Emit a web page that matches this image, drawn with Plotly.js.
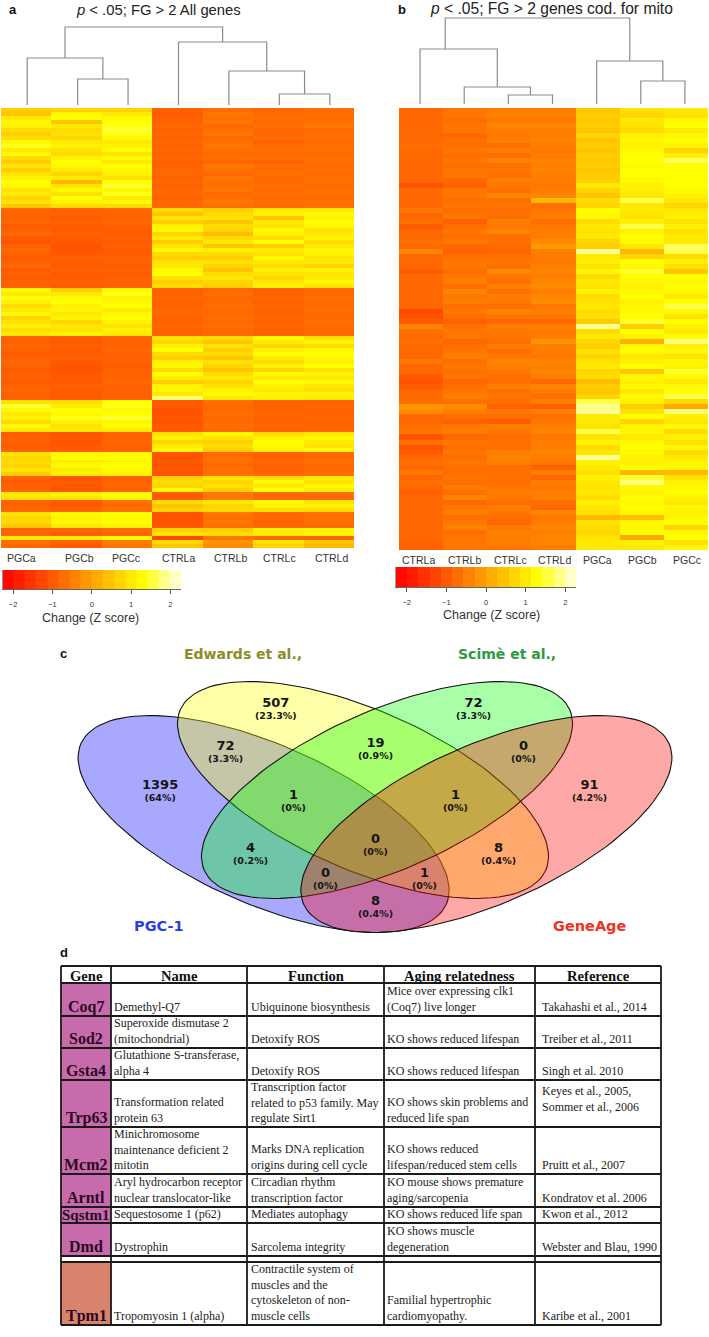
<!DOCTYPE html>
<html><head><meta charset="utf-8">
<script src="https://cdn.plot.ly/plotly-3.0.1.min.js"></script>
<style>html,body{margin:0;padding:0;background:#fff}#chart{width:709px;height:1337px}</style>
</head><body><div id="chart"></div>
<script>
// ---------- Panel a : z scores, one array per sample ----------
const samplesA = ['PGCa','PGCb','PGCc','CTRLa','CTRLb','CTRLc','CTRLd'];
const PGCa_a = [0.6,0.5,1.0,1.2,1.1,0.8,0.6,0.8,1.2,1.4,1.0,1.2,0.8,0.6,0.9,0.6,0.9,1.1,1.3,1.2,0.9,1.0,0.7,0.9,0.5,
 -0.8,-0.9,-0.9,-0.8,-1.0,-0.9,-0.8,-1.0,-1.1,-0.9,-0.8,-0.9,-1.0,-0.9,-0.8,-1.0,-0.9,-1.0,-0.9,-0.9,
 1.2,1.0,1.3,1.1,0.8,1.0,1.2,0.7,0.9,1.1,0.8,1.0,
 -0.9,-0.9,-0.8,-0.9,-1.0,-0.9,-0.8,-0.9,-1.0,-0.9,-0.9,-1.0,-0.9,-0.8,-0.9,-0.9,
 0.9,1.5,1.2,1.0,1.1,0.8,1.2,1.0, -1.0,-0.9,-0.9,-1.0,-0.9, 0.9,0.7,0.8,0.7,0.9,0.6,
 -0.9,-1.0,-0.9,-0.9, 1.0,0.9, -0.9,-0.9,-0.8, 0.9,0.7,0.8,0.5, -0.9,-0.8, 1.0, -0.7,-0.8];
const PGCb_a = [0.7,1.2,1.3,0.5,1.0,0.8,0.9,0.7,1.0,1.1,0.9,0.8,1.1,1.3,1.2,1.0,0.7,1.0,0.3,0.9,1.2,0.9,1.3,1.1,0.8,
 -0.9,-0.9,-1.0,-0.9,-1.0,-1.0,-0.9,-1.0,-1.0,-1.1,-1.1,-1.0,-0.9,-1.0,-1.0,-0.9,-1.0,-1.0,-0.9,-1.0,
 0.6,1.0,1.2,1.3,1.1,1.2,1.0,1.1,0.7,1.0,0.9,1.1,
 -1.0,-1.0,-0.9,-1.0,-1.0,-0.9,-1.0,-1.1,-1.1,-1.0,-1.0,-1.0,-0.9,-1.0,-1.0,-1.0,
 0.8,1.0,1.3,1.2,1.4,1.1,0.9,1.0, -1.1,-1.0,-1.1,-1.0,-1.0, 1.2,1.3,1.1,1.2,1.0,1.1,
 -1.1,-1.0,-1.0,-1.1, 1.1,0.9, -1.0,-1.0,-0.9, 1.2,1.1,1.2,1.0, -0.9,-0.9, 1.0, -0.9,-1.0];
const PGCc_a = [0.7,1.0,1.2,1.3,1.4,1.5,1.4,1.2,1.0,1.1,1.3,0.9,1.2,1.0,1.3,1.2,1.1,0.9,1.3,1.5,1.2,1.4,1.0,1.2,0.8,
 -0.8,-0.9,-0.9,-0.8,-0.9,-1.0,-1.0,-0.9,-1.0,-0.9,-1.0,-1.0,-0.9,-0.9,-1.0,-0.9,-1.0,-0.9,-0.9,-0.9,
 1.2,1.4,1.1,1.2,1.3,1.0,1.2,1.3,1.1,0.9,1.1,1.0,
 -0.9,-0.9,-0.9,-0.8,-0.9,-0.9,-0.9,-1.0,-0.9,-0.9,-0.9,-0.8,-0.9,-0.9,-0.9,-0.9,
 1.3,1.4,1.2,1.3,1.5,1.2,1.3,1.0, -0.9,-0.9,-0.8,-0.9,-0.9, 1.2,1.3,1.2,1.3,1.2,1.1,
 -0.9,-0.9,-0.8,-0.9, 1.3,1.2, -0.7,-0.8,-0.7, 1.3,1.2,1.3,1.1, -0.8,-0.8, 1.2, -0.5,-0.6];
const CTRLa_a = [-0.9,-1.0,-0.9,-0.9,-0.8,-0.9,-0.8,-0.9,-0.8,-0.9,-0.8,-0.9,-0.8,-0.9,-0.9,-0.8,-0.8,-0.9,-0.8,-0.9,-0.8,-0.8,-0.9,-0.8,-0.8,
 0.8,0.5,0.9,0.6,1.1,1.2,0.7,1.0,0.6,0.9,1.2,0.8,0.6,0.9,1.0,1.2,1.3,0.9,0.6,0.8,
 -0.9,-0.9,-0.8,-0.9,-0.9,-0.8,-0.8,-0.9,-0.9,-0.8,-0.9,-0.9,
 0.9,0.7,1.1,1.3,0.8,0.6,1.1,1.2,0.8,1.3,1.0,0.6,1.1,1.2,1.0,1.8,
 -1.0,-1.0,-1.1,-1.1,-1.0,-1.1,-1.0,-1.0, 0.9,1.1,0.7,1.0,1.2, -1.1,-1.1,-1.0,-1.1,-1.0,-1.1,
 0.6,0.8,0.7,1.2, -1.0,-1.0, 0.8,0.5,0.7, -1.1,-1.1,-1.1,-1.0, 0.7,0.9, -1.2, 0.8,0.5];
const CTRLb_a = [-0.7,-0.6,-0.7,-0.6,-0.8,-0.7,-0.6,-0.8,-0.7,-0.6,-0.7,-0.8,-0.7,-0.8,-0.6,-0.7,-0.8,-0.6,-0.7,-0.7,-0.6,-0.8,-0.7,-0.6,-0.7,
 0.6,0.8,0.9,0.5,0.8,0.7,0.4,0.8,1.0,0.5,1.1,0.8,0.6,0.9,0.7,0.5,0.8,1.0,0.7,0.6,
 -0.8,-0.7,-0.8,-0.8,-0.7,-0.8,-0.8,-0.7,-0.8,-0.7,-0.8,-0.8,
 0.8,0.5,0.9,0.6,0.8,0.5,0.9,0.7,0.5,0.8,1.0,0.7,0.9,1.1,1.2,1.0,
 -0.7,-0.8,-0.8,-0.7,-0.8,-0.8,-0.7,-0.8, 1.2,0.9,0.6,0.8,0.6, -0.8,-0.7,-0.7,-0.8,-0.7,-0.7,
 0.9,0.7,0.9,0.6, -0.6,-0.6, 1.0,0.7,0.8, -0.6,-0.7,-0.6,-0.7, 0.6,0.8, -0.6, -0.2,-0.3];
const CTRLc_a = [-0.8,-0.8,-0.7,-0.8,-0.7,-0.8,-0.8,-0.7,-0.9,-0.8,-0.7,-0.8,-0.7,-0.9,-0.7,-0.8,-0.7,-0.8,-0.8,-0.7,-0.8,-0.7,-0.8,-0.7,-0.8,
 1.0,1.1,0.5,1.0,0.9,1.2,1.1,0.8,1.3,0.6,1.0,0.9,1.2,1.0,0.8,1.1,0.9,0.7,1.0,1.1,
 -0.9,-0.9,-0.8,-0.9,-0.8,-0.9,-0.9,-0.8,-0.9,-0.8,-0.9,-0.9,
 1.2,1.0,0.7,1.1,1.3,1.0,0.8,1.1,0.7,1.2,1.0,1.3,1.1,1.0,1.2,1.1,
 -0.9,-0.9,-0.9,-0.8,-0.9,-0.9,-0.8,-0.9, 0.8,1.1,1.3,1.2,1.1, -0.9,-0.9,-0.8,-0.9,-0.9,-0.8,
 0.8,1.2,1.0,1.3, -0.8,-0.8, 1.2,1.1,0.9, -0.8,-0.8,-0.9,-0.8, 1.1,1.0, -0.8, 0.9,0.7];
const CTRLd_a = [-0.7,-0.7,-0.8,-0.7,-0.6,-0.8,-0.7,-0.7,-0.8,-0.7,-0.7,-0.8,-0.7,-0.7,-0.8,-0.7,-0.8,-0.7,-0.7,-0.8,-0.7,-0.7,-0.8,-0.7,-0.7,
 1.0,1.2,1.1,1.3,1.2,0.9,1.0,1.1,0.8,1.0,1.2,1.1,0.9,1.0,0.7,1.1,0.9,1.0,1.2,0.9,
 -0.8,-0.8,-0.7,-0.8,-0.8,-0.7,-0.8,-0.8,-0.7,-0.8,-0.8,-0.8,
 0.9,1.1,0.8,1.2,1.3,1.2,1.1,1.3,0.9,1.1,1.0,1.2,1.0,0.8,1.1,1.0,
 -0.9,-0.8,-0.9,-0.9,-0.8,-0.9,-0.9,-0.8, 1.0,1.2,1.0,0.9,1.2, -0.8,-0.8,-0.7,-0.8,-0.8,-0.7,
 1.0,0.9,1.2,1.0, -0.7,-0.8, 0.9,1.1,0.8, -0.7,-0.7,-0.7,-0.8, 1.2,1.1, -0.8, 0.5,0.3];

// ---------- Panel b : z scores, one array per sample ----------
const samplesB = ['CTRLa','CTRLb','CTRLc','CTRLd','PGCa','PGCb','PGCc'];
const CTRLa_b = [-.8,-.8,-.8,-.8,-.8,-.8,-.8,-.7,-.8,-.8,
 -.8,-.8,-.8,-.8,-.8,-1.1,-.8,-.8,-.8,-.8,
 -.6,-.8,-.7,-1.0,-.8,-.8,-.7,-.8,-.4,-.8,
 -.8,-.8,-1.0,-.8,-.8,-.8,-.8,-.8,-.8,-.8,
 -1.2,-1.1,-1.0,-.4,-.7,-.8,-.7,-.8,-.8,-.8,
 -.6,-.8,-.8,-1.0,-1.1,-1.0,-.8,-.8,-.7,-.2,
 -.3,-.8,-.8,-.7,-.6,-1.1,-.7,-1.1,-1.0,-.8,
 -.7,-.8,-.6,-.8,-.7,-.8,-.9,-.8,-.8,-.8,
 -.8,-.8,-.8,-.8,-.8,-.8,-.9,-.9];
const CTRLb_b = [-.6,-.6,-.7,-.6,-.6,-.8,-.7,-.7,-.6,-.7,
 -.6,-.7,-.6,-.6,-.8,-.9,-.6,-.6,-.7,-.6,
 -.7,-.6,-.9,-.7,-.6,-.7,-.6,-.8,-.9,-.7,
 -.6,-.6,-.7,-.6,-.5,-.7,-.4,-.6,-.5,-.7,
 -.6,-.7,-.9,-.7,-.6,-.6,-.8,-.7,-.6,-.5,
 -.7,-.6,-.7,-.6,-.8,-.7,-.6,-.5,-.7,-.3,
 -.5,-.7,-.9,-.6,-.5,-.8,-.6,-.7,-.6,-.7,
 -.6,-.7,-.7,-.6,-.7,-.5,-.7,-.4,-.8,-.6,
 -.5,-.7,-.6,-.4,-.7,-.6,-.6,-.6];
const CTRLc_b = [-.5,-.5,-.6,-.4,-.5,-.6,-.5,-.7,-.5,-.7,
 -.4,-.7,-.6,-.7,-.5,-.6,-.7,-.4,-.7,-.6,
 -.7,-.7,-.5,-.6,-.4,-.7,-.7,-.8,-.8,-.7,
 -.6,-.7,-.3,-.6,-.7,-.5,-.7,-.5,-.6,-.7,
 -.4,-.6,-.8,-.5,-.6,-.6,-.7,-.5,-.7,-.6,
 -.4,-.5,-.6,-.7,-.7,-.5,-.7,-.6,-.7,-.9,
 -.6,-.7,-1.0,-.5,-.6,-.7,-.7,-.7,-.5,-.4,
 -.5,-.7,-.7,-.7,-.7,-.6,-.5,-.6,-.7,-.5,
 -.6,-.7,-.8,-.6,-.5,-.5,-.5,-.6];
const CTRLd_b = [-.5,-.5,-.6,-.4,-.5,-.5,-.4,-.5,-.6,-.5,
 -.4,-.5,-.4,-.5,-.5,-.6,-.5,-.4,.3,-.7,
 -.6,-.5,-.7,-.6,-.5,-.5,-.3,-.1,-.5,-.5,
 -.6,-.5,-.4,-.5,-.4,-.3,-.5,-.4,-.3,-.6,
 -.5,-.6,-.8,-.5,-.6,-.5,-.2,-.5,-.5,-.6,
 -.4,-.5,-.4,-.5,-.8,-.4,-.6,-.7,-.5,-.9,
 -.5,-.7,-.6,-.5,-.4,-.6,-.5,-.5,-.4,-.5,
 -.6,-.9,-.5,-.8,-.5,-.6,-.5,-.5,-.7,-.8,
 -.4,-.6,-.5,-.4,-.5,-.4,-.4,-.5];
const PGCa_b = [.5,.6,.5,.6,.5,.7,.5,.6,.5,.6,
 .5,.6,.5,.6,.6,1.0,.7,.5,.8,.7,
 1.3,1.2,.8,1.0,.9,1.0,.7,.6,1.9,1.0,
 1.1,.9,1.2,.8,1.0,.9,1.1,.8,.9,1.0,
 .8,.9,.6,1.9,.8,1.0,.7,.6,.9,.7,
 .9,1.0,.7,.8,.4,.6,.5,.7,1.6,1.9,
 1.9,1.0,1.0,.9,1.6,.9,1.1,.8,1.0,1.9,
 1.1,1.0,.9,1.1,1.0,.9,1.0,.8,1.1,1.0,
 .9,.3,.9,.8,.7,.9,1.0,1.0];
const PGCb_b = [.9,.7,1.0,.9,.8,1.1,1.2,1.1,1.2,1.3,
 1.3,1.2,1.3,1.3,1.2,1.1,1.1,1.0,1.6,1.0,
 1.0,.9,1.1,1.6,1.1,1.3,1.2,1.0,.3,.7,
 1.3,1.2,1.5,1.3,1.2,1.1,1.2,1.3,1.1,1.2,
 1.2,1.3,1.5,.6,1.3,1.1,.2,1.2,1.3,1.0,
 1.1,1.3,.5,1.2,1.1,1.2,1.0,1.2,1.1,.6,
 .9,1.3,.7,1.1,1.2,1.0,1.2,1.3,1.2,1.1,
 1.1,1.3,.3,1.5,1.8,1.2,1.1,1.3,1.2,1.3,
 1.2,.4,1.2,1.2,1.3,0.1,1.1,1.0];
const PGCc_b = [1.0,.9,1.2,1.3,1.0,1.2,1.3,1.1,.7,1.1,
 1.7,1.3,1.3,1.3,1.3,1.3,1.2,1.1,1.0,.7,
 1.0,1.1,.9,1.1,.9,1.0,1.0,1.7,1.6,.8,
 1.1,.9,.5,1.3,1.2,1.3,1.2,1.0,1.3,1.6,
 1.2,.9,1.3,1.1,1.0,1.3,1.8,1.1,1.2,.9,
 1.2,1.1,1.5,1.2,1.0,1.2,1.3,1.6,.8,.1,
 1.8,1.1,1.0,1.2,.8,1.1,.9,1.2,.8,1.0,
 1.1,1.2,.3,.9,1.1,1.2,1.3,1.1,1.0,1.2,
 1.1,1.2,1.3,.7,1.2,1.3,.9,1.2];

// ---------- Dendrograms: leaves 0-6, merged nodes 7+ ----------
const mergeLeftA  = [1,5,4,3,0,11];
const mergeRightA = [2,6,8,9,7,10];
const mergeHeightA= [26,11,34,63,47,78];
const mergeLeftB  = [2,1,0,5,4,9];
const mergeRightB = [3,7,8,6,10,11];
const mergeHeightB= [9,17,55,23,43,86];
const stemOverrideB = {2:0.57};

// ---------- Colour key ----------
const keyLevels = [-2.13,-1.85,-1.56,-1.28,-0.99,-0.71,-0.43,-0.14,0.14,0.43,0.71,0.99,1.28,1.56,1.85,2.13];
const keyTicks = [-2,-1,0,1,2];
const keyTickText = ['−2','−1','0','1','2'];

// ---------- Venn ----------
const vennCounts = ['507','72','72','19','0','1395','1','1','91','0','4','8','0','1','8'];
const vennPercents = ['(23.3%)','(3.3%)','(3.3%)','(0.9%)','(0%)','(64%)','(0%)','(0%)','(4.2%)','(0%)','(0.2%)','(0.4%)','(0%)','(0%)','(0.4%)'];
const vennLabelX = [596,1098,470,848,1223,304,642,1052,1390,848,533,1160,722,972,848];
const vennLabelY = [190,190,320,312,320,437,466,466,437,597,626,626,702,702,786];
const vennPctY   = [217,217,347,338,347,463,493,493,463,624,652,652,728,728,812];

// ---------- Table ----------
const tableHeader = ['Gene','Name','Function','Aging relatedness','Reference'];
const genes = ['Coq7','Sod2','Gsta4','Trp63','Mcm2','Arntl','Sqstm1','Dmd','Tpm1'];
const geneNames = ['Demethyl-Q7','Superoxide dismutase 2<br>(mitochondrial)','Glutathione S-transferase,<br>alpha 4','Transformation related<br>protein 63','Minichromosome<br>maintenance deficient 2<br>mitotin','Aryl hydrocarbon receptor<br>nuclear translocator-like','Sequestosome 1 (p62)','Dystrophin','Tropomyosin 1 (alpha)'];
const geneFunctions = ['Ubiquinone biosynthesis','Detoxify ROS','Detoxify ROS','Transcription factor<br>related to p53 family. May<br>regulate Sirt1','Marks DNA replication<br>origins during cell cycle','Circadian rhythm<br>transcription factor','Mediates autophagy','Sarcolema integrity','Contractile system of<br>muscles and the<br>cytoskeleton of non-<br>muscle cells'];
const agingNotes = ['Mice over expressing clk1<br>(Coq7) live longer','KO shows reduced lifespan','KO shows reduced lifespan','KO shows skin problems and<br>reduced life span','KO shows reduced<br>lifespan/reduced stem cells','KO mouse shows premature<br>aging/sarcopenia','KO shows reduced life span','KO shows muscle<br>degeneration','Familial hypertrophic<br>cardiomyopathy.'];
const references = ['Takahashi et al., 2014','Treiber et al., 2011','Singh et al. 2010','Keyes et al., 2005,<br>Sommer et al., 2006','Pruitt et al., 2007','Kondratov et al. 2006','Kwon et al., 2012','Webster and Blau, 1990','Karibe et al., 2001'];

// ---------- Page geometry ----------
const W = 709, H = 1337;
const px = x => x / W, py = y => 1 - y / H;
const heat = [[0,'#FF0000'],[0.789,'#FFFF00'],[1,'#FFFFE4']];
const traces = [], layout = {
  width:W, height:H, margin:{l:0,r:0,t:0,b:0}, paper_bgcolor:'#fff', plot_bgcolor:'rgba(0,0,0,0)',
  showlegend:false, annotations:[], shapes:[]
};
let axN = 0;
function addAxes(x0,x1,y0,y1,xr,yr,xopt,yopt){
  axN++;
  const xk = 'xaxis'+(axN>1?axN:''), yk='yaxis'+(axN>1?axN:'');
  const base = {showgrid:false,zeroline:false,showline:false,showticklabels:false,ticks:'',fixedrange:true};
  layout[xk] = Object.assign({},base,{domain:[px(x0),px(x1)],range:xr,anchor:'y'+(axN>1?axN:'')},xopt||{});
  layout[yk] = Object.assign({},base,{domain:[py(y1),py(y0)],range:yr,anchor:'x'+(axN>1?axN:'')},yopt||{});
  return {x:'x'+(axN>1?axN:''),y:'y'+(axN>1?axN:'')};
}
function note(x,y,text,size,color,family,opts){
  layout.annotations.push(Object.assign({xref:'paper',yref:'paper',x:px(x),y:py(y),text:text,showarrow:false,
    xanchor:'center',yanchor:'middle',borderpad:0,font:{size:size,color:color,family:family}},opts||{}));
}
const SANS='Liberation Sans, Arial, sans-serif', SERIF='Liberation Serif, Times New Roman, serif', WIDE='DejaVu Sans, sans-serif';

function heatmapPanel(cols,x0,x1,y0,y1){
  const n = cols[0].length;
  const a = addAxes(x0,x1,y0,y1,[-0.5,6.5],[n-0.5,-0.5]);
  const z = []; for(let r=0;r<n;r++) z.push(cols.map(c=>c[r]));
  traces.push({type:'heatmap',z:z,xaxis:a.x,yaxis:a.y,colorscale:heat,zmin:-2.25,zmax:2.25,showscale:false,hoverinfo:'skip'});
}
function dendro(left,right,height,stems,x0,x1,y0,y1,maxH){
  const a = addAxes(x0,x1,y0,y1,[-0.5,6.5],[0,maxH]);
  const pos={},ht={}; for(let i=0;i<7;i++){pos[i]=i;ht[i]=0;}
  const xs=[],ys=[];
  left.forEach((l,i)=>{
    const r=right[i],h=height[i];
    xs.push(pos[l],pos[l],pos[r],pos[r],null); ys.push(ht[l],h,h,ht[r],null);
    pos[7+i]=(stems&&stems[i]!==undefined)?stems[i]:(pos[l]+pos[r])/2; ht[7+i]=h;
  });
  traces.push({type:'scatter',mode:'lines',x:xs,y:ys,xaxis:a.x,yaxis:a.y,line:{color:'#8c8c8c',width:1.2},hoverinfo:'skip'});
}
function colourKey(x0,x1,y0,y1){
  const a = addAxes(x0,x1,y0,y1,[-2.27,2.27],[-0.5,0.5],
    {showline:true,linecolor:'#666',linewidth:1,ticks:'outside',ticklen:4,tickcolor:'#555',tickwidth:1,tickmode:'array',
     tickvals:keyTicks,ticktext:keyTickText,showticklabels:true,ticklabelstandoff:4,
     tickfont:{size:7.5,color:'#333',family:SANS}},
    {showline:true,linecolor:'#999',linewidth:1});
  traces.push({type:'heatmap',x:keyLevels,y:[0],z:[keyLevels],xaxis:a.x,yaxis:a.y,colorscale:heat,zmin:-2.25,zmax:2.25,showscale:false,hoverinfo:'skip'});
}

// Panel a
heatmapPanel([PGCa_a,PGCb_a,PGCc_a,CTRLa_a,CTRLb_a,CTRLc_a,CTRLd_a],1,354,108,548);
dendro(mergeLeftA,mergeRightA,mergeHeightA,null,2,355,25,105,80);
colourKey(2.5,181,570,589);
note(13,10,'a',13,'#111',SANS,{font:{size:13,color:'#111',family:SANS,weight:700}});
note(158,10,'<i>p</i> &lt; .05; FG &gt; 2 All genes',14.8,'#222',SANS);
[21,79,126,178,230,279,331].forEach((x,i)=>note(x,558,samplesA[i],10.5,'#333',SANS));
note(90,618,'Change (Z score)',12.5,'#333',SANS);

// Panel b
heatmapPanel([CTRLa_b,CTRLb_b,CTRLc_b,CTRLd_b,PGCa_b,PGCb_b,PGCc_b],399,708,108,550);
dendro(mergeLeftB,mergeRightB,mergeHeightB,stemOverrideB,398,707,14,104,90);
colourKey(396,576,567,587);
note(402,9,'b',13,'#111',SANS,{font:{size:13,color:'#111',family:SANS,weight:700}});
note(551,8,'<i>p</i> &lt; .05; FG &gt; 2 genes cod. for mito',15.6,'#222',SANS);
[418,464,510,554,597,642,687].forEach((x,i)=>note(x,560,samplesB[i],10.5,'#333',SANS));
note(491,615,'Change (Z score)',12.5,'#333',SANS);

// Panel c: Venn, axes in page units
const va = addAxes(40,709,660,950,[40,709],[950,660]);
const A=199.6,B=79.7,TH=23.7*Math.PI/180;
const vennSets = [
  {cx:263.6,cy:824,dir:1,fill:'rgba(0,0,255,0.34)'},
  {cx:363,cy:790,dir:1,fill:'rgba(255,255,0,0.34)'},
  {cx:387,cy:790,dir:-1,fill:'rgba(0,255,0,0.34)'},
  {cx:486.4,cy:824,dir:-1,fill:'rgba(255,0,0,0.34)'}
];
vennSets.forEach(s=>{
  const xs=[],ys=[];
  for(let d=0;d<=360;d+=3){
    const t=d*Math.PI/180, u=A*Math.cos(t), v=B*Math.sin(t);
    xs.push(s.cx+s.dir*(u*Math.cos(TH)-v*Math.sin(TH)));
    ys.push(s.cy+u*Math.sin(TH)+v*Math.cos(TH));
  }
  traces.push({type:'scatter',mode:'lines',x:xs,y:ys,xaxis:va.x,yaxis:va.y,fill:'toself',fillcolor:s.fill,line:{color:'#111',width:1.1},hoverinfo:'skip'});
});
const vx = x => 40 + x/2.53, vy = y => 640 + y/3;
vennCounts.forEach((c,i)=>{
  const cy = (vy(vennLabelY[i])+vy(vennPctY[i]))/2;
  note(vx(vennLabelX[i]),cy,
    '<span style="font-size:13px;font-weight:700">'+c+'</span><br><span style="font-size:9.5px;font-weight:700">'+vennPercents[i]+'</span>',
    9,'#151515',WIDE);
});
const boldNote=(x,y,t,s,c,f)=>note(x,y,t,s,c,f,{font:{size:s,color:c,family:f,weight:700}});
boldNote(vx(513),vy(42),'Edwards et al.,',14,'#8c8c28',WIDE);
boldNote(vx(1182),vy(42),'Scimè et al.,',14,'#2f9a3c',WIDE);
boldNote(vx(302),vy(857),'PGC-1',14.5,'#2b3fe0',WIDE);
boldNote(vx(1390),vy(857),'GeneAge',14.5,'#ef3322',WIDE);
boldNote(63,653,'c',13,'#111',SANS);
boldNote(64,952,'d',13,'#111',SANS);

// Panel d: table
const colEdges=[61,111,247,384,535,661];
const rowEdges=[966,983,1016,1048,1080,1127,1174,1207,1223,1256];
const lastTop=1262,lastBottom=1325;
const textX=[113,250,386,541];
function hline(y,c){layout.shapes.push({type:'line',xref:'paper',yref:'paper',x0:px(61),x1:px(661),y0:py(y),y1:py(y),line:{color:c||'#1a1a1a',width:1.8}});}
function vline(x){layout.shapes.push({type:'line',xref:'paper',yref:'paper',x0:px(x),x1:px(x),y0:py(966),y1:py(lastBottom),line:{color:'#1a1a1a',width:1.8}});}
function cellFill(y0,y1,c){layout.shapes.push({type:'rect',xref:'paper',yref:'paper',layer:'below',x0:px(61),x1:px(111),y0:py(y0),y1:py(y1),fillcolor:c,line:{width:0}});}
genes.forEach((g,i)=>{
  const top = i<8?rowEdges[i+1]:lastTop, bottom = i<8?rowEdges[i+2]:lastBottom;
  cellFill(top,bottom,i<8?'#c86bad':'#d9826c');
  boldNote(86,bottom-(g==='Sqstm1'?8:9.5),g,g==='Sqstm1'?15:16,'#2a0a20',SERIF);
  const opt={xanchor:'left',yanchor:'bottom',align:'left'};
  const b = bottom-1;
  note(textX[0],b,geneNames[i],12,'#222',SERIF,opt);
  note(textX[1],b,geneFunctions[i],12,'#222',SERIF,opt);
  note(textX[2],b,agingNotes[i],12,'#222',SERIF,opt);
  note(textX[3],g==='Trp63'?b-11:b,references[i],12,'#222',SERIF,opt);
});
tableHeader.forEach((t,i)=>boldNote((colEdges[i]+colEdges[i+1])/2,976,t,14.6,'#111',SERIF));
rowEdges.forEach(y=>hline(y));
hline(lastTop); hline(lastBottom);
colEdges.forEach(vline);

Plotly.newPlot('chart',traces,layout,{staticPlot:true,displayModeBar:false});
</script></body></html>
